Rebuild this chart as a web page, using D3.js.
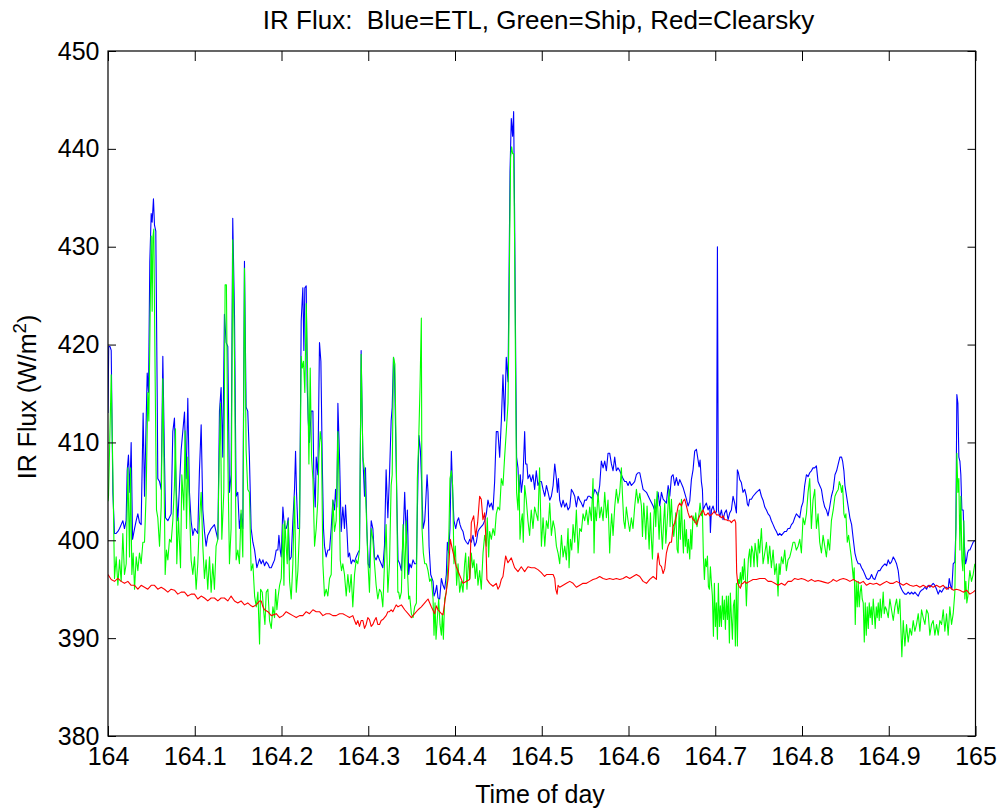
<!DOCTYPE html>
<html>
<head>
<meta charset="utf-8">
<script src="https://cdn.jsdelivr.net/npm/d3@7"></script>
<style>
  html, body { margin: 0; padding: 0; background: #fff; }
  svg { display: block; }
  text { font-family: "Liberation Sans", Arial, Helvetica, sans-serif; fill: #000; }
</style>
</head>
<body>
<svg id="chart" width="1002" height="808"></svg>
<script>
// IR flux over day 164: ETL radiometer, ship radiometer and clear-sky model, [day, W/m^2]
const etl = [[164.0000,413.0],[164.0008,419.8],[164.0023,419.8],[164.0037,419.4],[164.0056,404.9],[164.0075,400.7],[164.0094,400.7],[164.0114,400.9],[164.0133,401.2],[164.0152,401.6],[164.0171,402.0],[164.0190,401.2],[164.0209,402.0],[164.0221,407.1],[164.0236,408.7],[164.0252,404.9],[164.0267,410.0],[164.0283,400.1],[164.0306,401.2],[164.0325,402.0],[164.0344,402.7],[164.0363,401.8],[164.0382,401.6],[164.0405,413.0],[164.0421,404.5],[164.0452,417.1],[164.0467,415.1],[164.0482,428.5],[164.0498,433.4],[164.0509,432.5],[164.0524,434.9],[164.0536,432.2],[164.0551,431.6],[164.0567,415.0],[164.0574,406.3],[164.0594,406.0],[164.0613,405.2],[164.0632,418.8],[164.0651,408.5],[164.0663,402.3],[164.0690,402.0],[164.0728,402.7],[164.0747,411.1],[164.0766,412.5],[164.0786,405.2],[164.0805,402.0],[164.0843,409.2],[164.0882,413.1],[164.0901,406.3],[164.0920,414.5],[164.0939,404.9],[164.0958,402.0],[164.0978,400.5],[164.0997,401.2],[164.1035,400.7],[164.1054,407.1],[164.1074,411.8],[164.1093,403.1],[164.1112,400.9],[164.1131,399.4],[164.1150,400.5],[164.1189,401.2],[164.1227,401.6],[164.1266,400.1],[164.1285,413.2],[164.1304,415.6],[164.1323,408.5],[164.1342,423.1],[164.1362,420.2],[164.1381,419.8],[164.1400,404.9],[164.1419,406.7],[164.1438,432.9],[164.1458,423.1],[164.1477,404.5],[164.1496,404.9],[164.1515,401.2],[164.1534,402.7],[164.1554,401.2],[164.1573,428.5],[164.1592,413.6],[164.1611,413.2],[164.1630,408.5],[164.1650,401.2],[164.1670,399.8],[164.1690,399.0],[164.1716,397.2],[164.1747,398.1],[164.1766,397.6],[164.1786,398.0],[164.1805,397.4],[164.1824,397.8],[164.1843,397.6],[164.1862,397.2],[164.1882,397.2],[164.1901,397.6],[164.1920,398.0],[164.1939,399.0],[164.1958,399.0],[164.1970,400.5],[164.1985,399.0],[164.1997,398.3],[164.2016,403.4],[164.2028,402.0],[164.2039,401.2],[164.2054,401.2],[164.2066,401.6],[164.2077,402.3],[164.2093,398.0],[164.2112,398.3],[164.2131,402.0],[164.2150,405.2],[164.2162,409.1],[164.2173,404.9],[164.2189,401.2],[164.2208,401.2],[164.2227,422.4],[164.2246,425.8],[164.2258,419.4],[164.2269,425.8],[164.2285,426.0],[164.2296,415.8],[164.2308,412.2],[164.2323,410.0],[164.2342,413.2],[164.2362,413.2],[164.2373,406.3],[164.2389,403.4],[164.2400,408.5],[164.2419,406.7],[164.2438,420.2],[164.2454,418.3],[164.2469,408.5],[164.2484,401.2],[164.2496,399.4],[164.2515,398.3],[164.2534,399.0],[164.2554,399.0],[164.2573,401.2],[164.2592,404.1],[164.2611,403.1],[164.2623,405.2],[164.2638,403.4],[164.2650,414.0],[164.2669,408.5],[164.2688,400.9],[164.2707,403.4],[164.2726,401.2],[164.2738,403.6],[164.2753,401.2],[164.2769,398.3],[164.2784,398.7],[164.2803,397.6],[164.2822,398.0],[164.2842,397.8],[164.2861,398.3],[164.2880,398.7],[164.2899,399.0],[164.2918,419.4],[164.2938,408.5],[164.2957,404.5],[164.2968,407.4],[164.2984,401.2],[164.2999,397.6],[164.3014,397.2],[164.3034,402.0],[164.3053,401.2],[164.3072,398.3],[164.3091,398.0],[164.3110,398.5],[164.3130,398.0],[164.3149,397.6],[164.3168,397.2],[164.3187,399.4],[164.3206,407.2],[164.3226,402.3],[164.3245,406.7],[164.3264,412.2],[164.3276,413.6],[164.3291,418.7],[164.3302,417.6],[164.3324,406.7],[164.3343,398.0],[164.3363,397.6],[164.3382,396.9],[164.3401,400.1],[164.3420,404.9],[164.3439,400.1],[164.3451,403.1],[164.3466,396.5],[164.3478,397.6],[164.3497,397.2],[164.3516,398.0],[164.3535,397.6],[164.3555,397.6],[164.3574,406.7],[164.3585,410.7],[164.3601,409.2],[164.3612,406.7],[164.3632,401.2],[164.3651,402.0],[164.3662,403.8],[164.3678,406.7],[164.3689,404.9],[164.3701,399.4],[164.3720,396.5],[164.3735,396.1],[164.3747,395.8],[164.3758,394.3],[164.3774,394.7],[164.3789,395.4],[164.3804,394.1],[164.3823,394.0],[164.3843,396.1],[164.3862,395.4],[164.3881,395.0],[164.3900,396.5],[164.3912,399.8],[164.3927,398.7],[164.3942,401.2],[164.3958,409.1],[164.3973,404.9],[164.3988,402.0],[164.4008,401.2],[164.4027,402.0],[164.4042,402.3],[164.4058,401.6],[164.4073,401.2],[164.4092,400.9],[164.4111,400.1],[164.4131,399.8],[164.4150,399.6],[164.4169,400.1],[164.4188,399.8],[164.4207,400.5],[164.4227,399.4],[164.4246,399.8],[164.4265,400.9],[164.4284,401.2],[164.4303,401.4],[164.4323,401.6],[164.4342,402.0],[164.4361,402.7],[164.4380,404.1],[164.4399,403.4],[164.4419,403.8],[164.4438,403.1],[164.4457,406.0],[164.4476,411.1],[164.4495,411.1],[164.4515,408.5],[164.4534,412.2],[164.4553,416.9],[164.4572,412.2],[164.4591,418.7],[164.4611,416.2],[164.4622,426.0],[164.4634,437.6],[164.4649,443.1],[164.4664,441.3],[164.4676,443.8],[164.4687,433.3],[164.4699,419.4],[164.4710,408.5],[164.4726,407.4],[164.4737,404.9],[164.4753,406.7],[164.4764,404.9],[164.4783,406.3],[164.4803,411.1],[164.4814,407.8],[164.4829,407.8],[164.4841,406.3],[164.4860,406.7],[164.4879,406.0],[164.4899,406.7],[164.4918,405.2],[164.4937,407.1],[164.4956,405.6],[164.4975,406.0],[164.4996,406.0],[164.5015,405.2],[164.5035,404.5],[164.5054,405.6],[164.5073,404.9],[164.5092,404.1],[164.5111,404.5],[164.5131,405.6],[164.5150,407.8],[164.5169,406.3],[164.5180,404.9],[164.5192,406.3],[164.5207,404.1],[164.5227,403.4],[164.5246,404.1],[164.5265,403.4],[164.5284,403.8],[164.5303,403.1],[164.5323,403.4],[164.5342,405.2],[164.5361,404.9],[164.5380,404.5],[164.5399,403.4],[164.5419,404.5],[164.5438,404.1],[164.5457,403.8],[164.5476,403.4],[164.5495,404.1],[164.5515,404.1],[164.5534,404.5],[164.5553,404.5],[164.5572,404.3],[164.5591,404.5],[164.5611,405.2],[164.5630,404.9],[164.5649,404.5],[164.5668,405.6],[164.5687,408.1],[164.5707,407.4],[164.5726,408.1],[164.5745,407.1],[164.5764,408.9],[164.5783,408.9],[164.5803,407.8],[164.5822,407.1],[164.5841,408.5],[164.5860,407.1],[164.5879,407.4],[164.5899,407.1],[164.5918,406.7],[164.5937,406.3],[164.5956,406.0],[164.5975,406.0],[164.5995,405.6],[164.6014,406.0],[164.6033,405.6],[164.6052,405.8],[164.6071,406.0],[164.6091,406.7],[164.6110,406.9],[164.6130,406.9],[164.6168,405.2],[164.6207,404.9],[164.6245,404.2],[164.6284,403.5],[164.6303,403.0],[164.6322,403.8],[164.6341,404.9],[164.6360,403.5],[164.6380,404.9],[164.6399,404.2],[164.6437,403.8],[164.6457,405.6],[164.6476,404.5],[164.6495,406.5],[164.6514,406.7],[164.6533,405.6],[164.6552,406.4],[164.6572,405.6],[164.6591,406.2],[164.6629,405.4],[164.6668,404.2],[164.6687,403.5],[164.6706,404.0],[164.6725,406.2],[164.6744,407.2],[164.6763,409.1],[164.6783,409.3],[164.6802,408.2],[164.6814,407.5],[164.6825,408.2],[164.6840,406.0],[164.6852,405.2],[164.6860,403.1],[164.6879,403.5],[164.6898,403.8],[164.6917,403.1],[164.6937,403.5],[164.6944,400.8],[164.6956,403.1],[164.6975,403.5],[164.6994,402.8],[164.7014,402.9],[164.7025,430.0],[164.7036,403.1],[164.7052,402.4],[164.7071,403.1],[164.7090,402.1],[164.7109,402.8],[164.7128,403.1],[164.7148,402.1],[164.7167,402.8],[164.7186,403.1],[164.7205,404.5],[164.7224,403.8],[164.7244,402.8],[164.7255,407.2],[164.7267,406.9],[164.7282,406.2],[164.7301,405.9],[164.7320,404.9],[164.7340,405.2],[164.7359,404.5],[164.7370,403.7],[164.7382,403.5],[164.7397,404.2],[164.7417,404.2],[164.7436,404.5],[164.7474,404.9],[164.7512,405.2],[164.7532,404.5],[164.7551,404.1],[164.7571,403.4],[164.7590,403.1],[164.7609,402.7],[164.7628,402.5],[164.7647,402.0],[164.7667,401.6],[164.7686,401.2],[164.7705,400.9],[164.7724,400.5],[164.7743,400.7],[164.7763,400.5],[164.7782,400.7],[164.7801,400.9],[164.7820,400.9],[164.7839,401.2],[164.7859,401.2],[164.7878,401.6],[164.7897,401.8],[164.7916,402.3],[164.7935,402.7],[164.7955,402.5],[164.7974,402.3],[164.7993,403.4],[164.8012,403.9],[164.8031,405.6],[164.8051,406.7],[164.8070,406.5],[164.8089,406.9],[164.8108,407.1],[164.8127,407.4],[164.8147,407.4],[164.8166,407.6],[164.8185,406.0],[164.8204,405.6],[164.8224,405.2],[164.8243,404.1],[164.8262,403.4],[164.8281,403.1],[164.8300,402.5],[164.8319,403.4],[164.8339,404.5],[164.8360,405.2],[164.8380,406.7],[164.8399,407.1],[164.8418,407.8],[164.8437,408.5],[164.8456,408.5],[164.8468,408.1],[164.8483,407.1],[164.8495,405.6],[164.8514,404.5],[164.8533,403.4],[164.8552,402.3],[164.8572,401.6],[164.8591,400.1],[164.8610,398.7],[164.8629,398.0],[164.8648,397.6],[164.8668,397.6],[164.8687,397.2],[164.8706,396.9],[164.8725,396.5],[164.8744,396.1],[164.8764,396.0],[164.8783,396.1],[164.8802,396.5],[164.8821,396.1],[164.8840,396.0],[164.8860,396.5],[164.8879,396.9],[164.8898,396.9],[164.8917,397.2],[164.8936,397.4],[164.8956,397.6],[164.8975,397.4],[164.8994,398.0],[164.9013,397.6],[164.9032,397.8],[164.9052,398.3],[164.9071,398.0],[164.9090,397.6],[164.9109,396.9],[164.9128,395.4],[164.9148,395.0],[164.9167,394.7],[164.9186,394.5],[164.9205,394.5],[164.9224,394.7],[164.9244,394.5],[164.9263,394.7],[164.9282,394.5],[164.9301,394.7],[164.9320,394.5],[164.9340,394.3],[164.9359,394.7],[164.9378,394.9],[164.9397,395.0],[164.9417,395.2],[164.9436,395.0],[164.9455,395.4],[164.9474,395.2],[164.9493,395.4],[164.9512,395.6],[164.9532,395.4],[164.9551,395.0],[164.9570,394.5],[164.9589,394.9],[164.9609,394.7],[164.9628,395.0],[164.9647,395.2],[164.9666,395.2],[164.9685,395.0],[164.9697,396.1],[164.9712,395.4],[164.9727,395.0],[164.9743,397.6],[164.9762,397.8],[164.9774,401.2],[164.9785,414.9],[164.9797,414.0],[164.9808,408.5],[164.9820,408.1],[164.9831,406.7],[164.9843,403.1],[164.9858,403.1],[164.9870,399.8],[164.9885,397.6],[164.9897,398.0],[164.9908,398.7],[164.9920,399.0],[164.9935,399.0],[164.9954,399.4],[164.9973,399.8],[164.9992,400.0]];

const ship = [[164.0000,404.0],[164.0006,404.5],[164.0037,416.9],[164.0056,407.0],[164.0075,396.1],[164.0094,398.3],[164.0114,395.4],[164.0133,398.0],[164.0152,395.8],[164.0171,400.7],[164.0190,396.5],[164.0210,397.6],[164.0229,407.4],[164.0248,398.3],[164.0260,407.4],[164.0275,396.5],[164.0290,398.7],[164.0306,395.0],[164.0325,398.3],[164.0344,396.9],[164.0363,398.7],[164.0382,397.6],[164.0402,399.8],[164.0421,399.8],[164.0440,404.9],[164.0459,415.1],[164.0471,412.2],[164.0486,423.1],[164.0498,431.1],[164.0509,423.4],[164.0517,430.9],[164.0528,431.8],[164.0544,416.2],[164.0559,403.1],[164.0574,402.3],[164.0594,399.4],[164.0613,403.4],[164.0632,416.5],[164.0644,408.5],[164.0659,396.5],[164.0674,399.0],[164.0690,398.0],[164.0709,400.1],[164.0728,399.8],[164.0747,402.0],[164.0766,405.6],[164.0778,411.4],[164.0793,397.6],[164.0812,402.3],[164.0836,397.2],[164.0851,406.7],[164.0874,403.1],[164.0889,411.2],[164.0905,401.2],[164.0920,408.5],[164.0939,403.4],[164.0958,398.0],[164.0978,396.5],[164.0997,398.3],[164.1016,395.0],[164.1035,397.6],[164.1054,402.0],[164.1074,404.9],[164.1093,399.4],[164.1112,396.1],[164.1131,398.0],[164.1150,395.0],[164.1170,398.3],[164.1189,394.7],[164.1208,397.6],[164.1227,395.0],[164.1246,399.4],[164.1266,400.1],[164.1281,407.8],[164.1296,414.0],[164.1312,400.1],[164.1335,404.9],[164.1350,426.1],[164.1365,426.1],[164.1381,408.5],[164.1400,397.6],[164.1419,401.2],[164.1438,430.7],[164.1458,418.7],[164.1477,398.0],[164.1496,399.0],[164.1515,397.6],[164.1534,403.1],[164.1554,398.3],[164.1573,427.8],[164.1592,409.2],[164.1611,405.2],[164.1630,404.9],[164.1650,396.9],[164.1670,397.6],[164.1690,394.3],[164.1709,393.2],[164.1728,394.7],[164.1747,389.4],[164.1759,395.0],[164.1778,394.7],[164.1793,392.9],[164.1809,391.4],[164.1824,394.7],[164.1843,395.0],[164.1862,391.8],[164.1882,391.0],[164.1901,393.2],[164.1920,392.1],[164.1932,395.0],[164.1947,392.9],[164.1962,394.3],[164.1978,395.4],[164.1997,396.1],[164.2016,401.6],[164.2028,395.4],[164.2039,402.0],[164.2054,399.4],[164.2066,397.6],[164.2077,402.0],[164.2093,395.8],[164.2112,394.0],[164.2131,397.6],[164.2150,404.5],[164.2170,394.7],[164.2189,396.9],[164.2208,401.2],[164.2227,418.8],[164.2239,417.6],[164.2254,418.3],[164.2269,415.1],[164.2285,424.2],[164.2300,417.6],[164.2316,407.8],[164.2331,417.6],[164.2346,408.5],[164.2362,406.3],[164.2381,399.4],[164.2400,401.2],[164.2419,404.1],[164.2431,408.5],[164.2446,411.1],[164.2461,410.0],[164.2477,397.6],[164.2496,394.3],[164.2515,395.0],[164.2534,394.3],[164.2554,396.1],[164.2573,396.5],[164.2592,404.1],[164.2611,400.9],[164.2630,402.0],[164.2650,411.1],[164.2661,406.7],[164.2677,398.0],[164.2692,396.9],[164.2707,397.6],[164.2726,396.5],[164.2746,394.3],[164.2765,396.5],[164.2784,394.7],[164.2803,396.5],[164.2822,393.2],[164.2842,396.5],[164.2861,398.0],[164.2880,397.6],[164.2899,399.0],[164.2918,419.0],[164.2938,408.5],[164.2957,407.1],[164.2976,403.1],[164.2995,398.0],[164.3014,394.7],[164.3034,401.2],[164.3053,400.1],[164.3072,397.6],[164.3091,395.4],[164.3110,394.0],[164.3130,395.0],[164.3149,394.7],[164.3168,393.2],[164.3187,397.6],[164.3206,401.6],[164.3226,394.7],[164.3245,397.6],[164.3264,405.6],[164.3276,406.7],[164.3291,418.7],[164.3307,418.0],[164.3322,409.2],[164.3341,394.7],[164.3351,394.7],[164.3363,394.0],[164.3382,394.7],[164.3401,401.6],[164.3420,396.1],[164.3439,402.0],[164.3451,397.2],[164.3466,394.0],[164.3478,394.3],[164.3497,392.5],[164.3516,392.1],[164.3535,393.2],[164.3555,393.6],[164.3566,406.3],[164.3581,410.0],[164.3597,415.8],[164.3612,422.7],[164.3620,401.2],[164.3635,398.7],[164.3651,397.6],[164.3670,397.6],[164.3689,396.9],[164.3708,395.8],[164.3727,396.1],[164.3747,394.0],[164.3758,390.3],[164.3770,393.6],[164.3781,389.9],[164.3797,392.1],[164.3812,394.0],[164.3827,391.4],[164.3843,390.3],[164.3854,392.5],[164.3866,389.9],[164.3881,394.0],[164.3900,394.7],[164.3919,397.6],[164.3931,401.2],[164.3942,406.3],[164.3958,407.1],[164.3973,405.6],[164.3988,397.6],[164.4004,399.4],[164.4019,395.4],[164.4035,397.6],[164.4054,394.7],[164.4073,395.8],[164.4092,394.7],[164.4111,397.6],[164.4123,398.7],[164.4138,395.0],[164.4157,398.3],[164.4173,396.1],[164.4188,398.7],[164.4204,397.2],[164.4219,398.0],[164.4234,396.1],[164.4250,397.6],[164.4265,395.4],[164.4284,396.9],[164.4303,395.0],[164.4323,398.7],[164.4342,400.5],[164.4361,399.4],[164.4372,402.3],[164.4388,398.3],[164.4399,400.9],[164.4419,400.1],[164.4438,401.2],[164.4457,400.5],[164.4476,402.7],[164.4495,403.4],[164.4515,403.1],[164.4534,406.3],[164.4553,405.6],[164.4572,408.5],[164.4591,411.1],[164.4611,414.0],[164.4618,418.7],[164.4630,430.4],[164.4641,439.1],[164.4653,440.2],[164.4664,439.5],[164.4676,439.5],[164.4687,430.4],[164.4699,415.8],[164.4710,404.9],[164.4726,403.1],[164.4737,406.7],[164.4749,400.1],[164.4764,402.0],[164.4776,402.7],[164.4787,399.8],[164.4803,405.6],[164.4822,404.1],[164.4841,402.0],[164.4860,400.5],[164.4879,403.1],[164.4899,401.2],[164.4918,403.4],[164.4937,402.7],[164.4956,402.0],[164.4975,407.4],[164.4996,399.4],[164.5015,402.3],[164.5035,399.4],[164.5054,402.0],[164.5073,401.2],[164.5092,403.8],[164.5111,400.5],[164.5131,402.0],[164.5150,401.2],[164.5169,399.4],[164.5188,398.7],[164.5207,397.6],[164.5227,400.5],[164.5246,398.3],[164.5265,399.4],[164.5284,398.0],[164.5303,401.2],[164.5315,397.2],[164.5330,400.1],[164.5346,399.0],[164.5361,401.6],[164.5380,399.8],[164.5399,403.1],[164.5419,398.7],[164.5438,401.2],[164.5457,400.9],[164.5476,402.7],[164.5495,402.0],[164.5515,403.1],[164.5534,401.6],[164.5553,403.4],[164.5572,402.0],[164.5591,406.3],[164.5603,398.7],[164.5614,403.4],[164.5630,402.0],[164.5649,404.9],[164.5668,402.3],[164.5687,403.4],[164.5707,402.0],[164.5726,404.9],[164.5745,402.3],[164.5764,404.1],[164.5783,398.7],[164.5795,401.2],[164.5806,402.7],[164.5822,400.5],[164.5841,403.4],[164.5860,405.2],[164.5879,403.8],[164.5899,404.9],[164.5918,407.4],[164.5929,404.9],[164.5945,402.0],[164.5960,401.2],[164.5975,403.4],[164.5995,402.0],[164.6014,400.9],[164.6033,402.3],[164.6052,401.2],[164.6071,403.4],[164.6091,405.2],[164.6110,403.8],[164.6130,404.8],[164.6149,403.5],[164.6161,400.4],[164.6176,403.8],[164.6188,402.1],[164.6199,400.1],[164.6214,403.5],[164.6226,401.4],[164.6238,399.1],[164.6253,402.8],[164.6264,400.1],[164.6276,398.1],[164.6291,402.1],[164.6303,404.2],[164.6314,401.4],[164.6330,405.0],[164.6341,402.5],[164.6353,400.1],[164.6368,403.5],[164.6380,400.8],[164.6391,399.1],[164.6406,402.1],[164.6418,403.8],[164.6430,399.7],[164.6445,401.8],[164.6456,403.5],[164.6468,405.2],[164.6479,401.4],[164.6495,404.2],[164.6506,401.8],[164.6522,400.4],[164.6533,401.4],[164.6545,402.8],[164.6560,399.1],[164.6572,398.7],[164.6583,403.1],[164.6598,400.1],[164.6610,404.2],[164.6622,400.8],[164.6633,398.7],[164.6645,402.1],[164.6656,399.4],[164.6668,401.1],[164.6679,398.7],[164.6691,400.1],[164.6706,398.1],[164.6718,401.1],[164.6729,399.1],[164.6744,402.5],[164.6764,401.8],[164.6775,402.8],[164.6790,401.4],[164.6802,402.1],[164.6814,402.8],[164.6825,403.8],[164.6840,402.5],[164.6852,403.1],[164.6863,398.4],[164.6875,396.0],[164.6886,398.1],[164.6898,397.3],[164.6910,398.4],[164.6921,395.3],[164.6933,395.0],[164.6944,397.3],[164.6956,395.6],[164.6967,394.3],[164.6979,390.2],[164.6990,395.6],[164.7002,391.2],[164.7013,393.6],[164.7025,389.9],[164.7036,395.6],[164.7048,391.2],[164.7059,393.3],[164.7071,391.2],[164.7082,394.3],[164.7094,391.9],[164.7105,393.9],[164.7117,390.9],[164.7128,394.3],[164.7140,391.9],[164.7151,394.3],[164.7163,389.5],[164.7174,394.6],[164.7186,392.2],[164.7198,389.9],[164.7209,393.3],[164.7221,393.9],[164.7232,389.2],[164.7244,395.6],[164.7255,389.2],[164.7267,396.0],[164.7278,395.6],[164.7290,396.7],[164.7301,395.3],[164.7313,397.3],[164.7324,396.0],[164.7336,398.1],[164.7347,396.3],[164.7359,393.3],[164.7370,396.0],[164.7382,398.1],[164.7397,399.1],[164.7409,397.3],[164.7420,399.4],[164.7436,398.7],[164.7447,397.3],[164.7459,399.7],[164.7474,398.7],[164.7486,397.3],[164.7497,400.1],[164.7512,398.7],[164.7532,401.2],[164.7551,397.6],[164.7571,398.7],[164.7590,399.8],[164.7609,397.6],[164.7628,399.4],[164.7647,397.2],[164.7667,399.0],[164.7686,396.5],[164.7705,397.6],[164.7724,394.3],[164.7736,397.6],[164.7747,396.5],[164.7763,398.3],[164.7782,397.6],[164.7801,399.0],[164.7820,396.9],[164.7839,398.0],[164.7859,398.3],[164.7878,399.0],[164.7897,399.8],[164.7916,399.8],[164.7935,399.0],[164.7955,399.4],[164.7974,400.1],[164.7993,398.7],[164.8012,402.3],[164.8031,401.6],[164.8051,402.7],[164.8070,404.9],[164.8089,406.3],[164.8108,401.2],[164.8127,404.1],[164.8147,405.2],[164.8166,401.2],[164.8185,402.7],[164.8204,399.8],[164.8224,398.7],[164.8243,400.5],[164.8262,399.4],[164.8281,398.3],[164.8300,400.1],[164.8319,399.0],[164.8339,402.0],[164.8360,403.1],[164.8380,404.5],[164.8399,404.9],[164.8418,405.2],[164.8430,406.0],[164.8445,405.6],[164.8456,404.9],[164.8468,405.6],[164.8483,402.7],[164.8495,402.3],[164.8506,402.7],[164.8522,399.8],[164.8537,400.5],[164.8552,399.4],[164.8572,398.0],[164.8591,396.1],[164.8602,397.2],[164.8614,391.4],[164.8625,395.8],[164.8637,393.2],[164.8648,395.8],[164.8660,393.2],[164.8671,394.7],[164.8683,395.4],[164.8694,394.0],[164.8706,393.6],[164.8718,389.6],[164.8729,393.6],[164.8741,390.3],[164.8752,393.2],[164.8764,391.0],[164.8775,393.6],[164.8787,392.1],[164.8798,393.2],[164.8810,391.4],[164.8821,394.0],[164.8833,392.5],[164.8844,391.0],[164.8856,393.2],[164.8867,392.1],[164.8879,393.6],[164.8890,391.8],[164.8902,394.0],[164.8913,392.1],[164.8925,393.2],[164.8936,394.7],[164.8948,392.5],[164.8960,393.2],[164.8975,392.9],[164.8994,392.1],[164.9013,394.0],[164.9032,392.9],[164.9052,391.8],[164.9071,393.2],[164.9090,394.0],[164.9109,392.5],[164.9128,394.0],[164.9140,391.0],[164.9151,388.1],[164.9167,391.8],[164.9186,389.2],[164.9205,391.4],[164.9224,389.6],[164.9244,391.0],[164.9263,390.3],[164.9282,391.8],[164.9301,390.7],[164.9320,391.4],[164.9340,392.5],[164.9359,390.7],[164.9378,392.9],[164.9397,392.1],[164.9417,391.4],[164.9436,392.9],[164.9455,392.5],[164.9474,390.3],[164.9493,391.4],[164.9512,391.8],[164.9532,390.3],[164.9551,391.4],[164.9570,390.3],[164.9589,391.8],[164.9609,391.4],[164.9628,392.9],[164.9647,390.7],[164.9666,392.5],[164.9685,390.3],[164.9704,393.2],[164.9724,391.4],[164.9743,392.5],[164.9762,394.7],[164.9774,401.2],[164.9785,408.9],[164.9797,404.9],[164.9808,406.3],[164.9820,399.0],[164.9831,404.5],[164.9843,398.0],[164.9854,396.9],[164.9866,402.0],[164.9877,394.0],[164.9889,395.8],[164.9900,393.6],[164.9912,394.3],[164.9923,395.8],[164.9935,396.9],[164.9954,395.8],[164.9973,396.5],[164.9992,397.6]];

const clearsky = [[164.0000,396.5],[164.0037,396.0],[164.0075,395.8],[164.0114,396.1],[164.0152,395.8],[164.0190,395.6],[164.0229,395.8],[164.0267,395.4],[164.0306,395.4],[164.0344,395.0],[164.0382,395.4],[164.0421,395.2],[164.0459,395.0],[164.0498,395.4],[164.0536,395.4],[164.0574,395.0],[164.0613,395.2],[164.0651,395.0],[164.0690,394.7],[164.0728,395.0],[164.0766,394.9],[164.0805,394.5],[164.0843,394.7],[164.0882,394.7],[164.0920,394.3],[164.0958,394.5],[164.0997,394.5],[164.1035,394.0],[164.1074,394.3],[164.1112,394.1],[164.1150,393.8],[164.1189,394.1],[164.1227,394.1],[164.1266,393.8],[164.1304,394.1],[164.1342,394.1],[164.1381,393.8],[164.1419,394.3],[164.1458,393.8],[164.1496,393.6],[164.1534,393.8],[164.1573,393.4],[164.1611,393.6],[164.1650,393.3],[164.1670,393.2],[164.1709,393.4],[164.1747,393.8],[164.1766,393.8],[164.1786,393.2],[164.1805,392.9],[164.1843,392.7],[164.1882,392.3],[164.1939,392.5],[164.1978,392.1],[164.2016,392.3],[164.2054,392.7],[164.2093,392.5],[164.2131,392.3],[164.2170,392.1],[164.2208,392.3],[164.2246,392.3],[164.2285,392.7],[164.2323,392.5],[164.2362,392.9],[164.2400,392.7],[164.2438,392.7],[164.2477,392.3],[164.2515,392.5],[164.2554,392.5],[164.2592,392.3],[164.2630,392.3],[164.2669,392.5],[164.2707,392.5],[164.2746,392.3],[164.2784,392.1],[164.2822,392.3],[164.2842,391.8],[164.2861,391.4],[164.2880,391.8],[164.2899,391.2],[164.2918,391.8],[164.2938,391.8],[164.2957,391.0],[164.2976,391.4],[164.2995,392.1],[164.3014,391.9],[164.3034,391.2],[164.3053,391.4],[164.3072,391.8],[164.3091,392.1],[164.3110,391.4],[164.3130,391.4],[164.3149,391.8],[164.3168,391.9],[164.3187,392.1],[164.3206,392.3],[164.3226,392.7],[164.3245,392.7],[164.3264,392.9],[164.3283,392.7],[164.3322,393.4],[164.3343,393.2],[164.3382,393.4],[164.3420,392.9],[164.3459,392.5],[164.3497,392.1],[164.3535,392.5],[164.3574,392.9],[164.3612,393.2],[164.3651,393.6],[164.3689,394.0],[164.3727,393.2],[164.3766,392.5],[164.3785,393.3],[164.3804,392.9],[164.3843,392.5],[164.3862,392.4],[164.3892,394.3],[164.3919,396.0],[164.3946,400.1],[164.3969,399.1],[164.4015,397.3],[164.4092,395.6],[164.4169,396.0],[164.4188,401.8],[164.4215,402.5],[164.4238,400.4],[164.4261,401.8],[164.4284,404.5],[164.4303,404.2],[164.4322,402.1],[164.4342,402.8],[164.4353,400.8],[164.4368,396.0],[164.4399,395.6],[164.4438,395.3],[164.4476,395.6],[164.4495,395.0],[164.4514,395.3],[164.4534,396.0],[164.4553,396.3],[164.4584,398.4],[164.4610,397.7],[164.4649,398.2],[164.4687,397.2],[164.4726,396.8],[164.4764,397.3],[164.4803,396.8],[164.4841,397.3],[164.4879,397.2],[164.4918,397.2],[164.4956,397.0],[164.4995,396.7],[164.5033,396.3],[164.5054,396.5],[164.5131,396.5],[164.5150,396.1],[164.5161,395.0],[164.5177,394.5],[164.5188,395.4],[164.5207,395.2],[164.5246,395.4],[164.5284,395.6],[164.5323,395.8],[164.5361,395.6],[164.5399,395.2],[164.5438,395.4],[164.5476,395.6],[164.5515,395.6],[164.5553,395.8],[164.5591,396.0],[164.5630,396.1],[164.5668,396.3],[164.5707,396.1],[164.5745,396.0],[164.5783,396.1],[164.5822,396.0],[164.5860,396.1],[164.5899,396.0],[164.5937,396.1],[164.5975,396.3],[164.6014,396.1],[164.6052,396.3],[164.6091,396.5],[164.6130,396.3],[164.6168,395.8],[164.6207,395.6],[164.6245,396.0],[164.6284,396.3],[164.6322,396.0],[164.6330,397.8],[164.6341,398.7],[164.6360,397.5],[164.6380,397.3],[164.6399,396.6],[164.6418,397.1],[164.6437,398.7],[164.6456,399.4],[164.6476,399.8],[164.6495,399.8],[164.6514,401.4],[164.6533,401.8],[164.6552,402.5],[164.6572,403.5],[164.6591,403.8],[164.6610,403.5],[164.6629,404.0],[164.6648,404.2],[164.6668,403.5],[164.6687,402.8],[164.6706,402.3],[164.6725,402.5],[164.6744,402.1],[164.6764,402.0],[164.6783,401.6],[164.6802,402.1],[164.6821,402.5],[164.6840,402.8],[164.6860,403.1],[164.6879,402.6],[164.6898,402.6],[164.6917,402.8],[164.6936,402.5],[164.6956,402.6],[164.6975,402.8],[164.6994,403.0],[164.7013,402.6],[164.7032,402.6],[164.7052,402.5],[164.7071,402.3],[164.7090,402.5],[164.7109,402.1],[164.7128,402.1],[164.7148,402.0],[164.7167,402.0],[164.7186,401.8],[164.7205,402.0],[164.7224,402.1],[164.7236,401.8],[164.7247,396.7],[164.7259,395.6],[164.7274,395.3],[164.7290,395.1],[164.7301,395.5],[164.7320,395.6],[164.7340,395.8],[164.7359,395.6],[164.7397,395.8],[164.7436,396.0],[164.7474,396.0],[164.7512,396.1],[164.7571,396.1],[164.7609,395.8],[164.7647,395.8],[164.7686,395.6],[164.7724,395.4],[164.7763,395.6],[164.7801,395.4],[164.7839,395.8],[164.7878,395.8],[164.7916,396.1],[164.7955,396.0],[164.7993,396.1],[164.8031,396.0],[164.8070,395.8],[164.8108,396.0],[164.8147,395.8],[164.8185,395.9],[164.8224,395.8],[164.8262,395.7],[164.8300,395.6],[164.8339,395.8],[164.8360,396.0],[164.8399,395.8],[164.8437,396.0],[164.8476,396.1],[164.8514,396.0],[164.8552,395.8],[164.8591,396.0],[164.8629,395.8],[164.8668,395.6],[164.8706,395.8],[164.8744,395.4],[164.8783,395.6],[164.8821,395.5],[164.8860,395.6],[164.8898,395.4],[164.8936,395.6],[164.8975,395.8],[164.9013,395.6],[164.9052,395.6],[164.9090,395.8],[164.9128,395.6],[164.9167,395.4],[164.9205,395.6],[164.9244,395.4],[164.9282,395.3],[164.9320,395.4],[164.9359,395.2],[164.9397,395.4],[164.9436,395.2],[164.9474,395.4],[164.9512,395.2],[164.9551,395.4],[164.9589,395.2],[164.9628,395.4],[164.9666,395.0],[164.9704,395.2],[164.9743,394.9],[164.9781,395.0],[164.9820,394.9],[164.9858,394.7],[164.9897,394.9],[164.9935,394.5],[164.9973,394.7],[165.0000,394.9]];

const xTicks = [164, 164.1, 164.2, 164.3, 164.4, 164.5, 164.6, 164.7, 164.8, 164.9, 165];
const xTickLabels = ["164", "164.1", "164.2", "164.3", "164.4", "164.5", "164.6", "164.7", "164.8", "164.9", "165"];
const yTicks = [380, 390, 400, 410, 420, 430, 440, 450];
const yTickLabels = ["380", "390", "400", "410", "420", "430", "440", "450"];

const chartTitle = "IR Flux:  Blue=ETL, Green=Ship, Red=Clearsky";
const xTitle = "Time of day";

// plot frame
const W = 1002, H = 808;
const plotL = 108, plotR = 975.5, plotT = 51, plotB = 736;
const FONT = 25;

const svg = d3.select("#chart");
svg.append("rect").attr("width", W).attr("height", H).attr("fill", "#fff");

const x = d3.scaleLinear().domain([164, 165]).range([plotL, plotR]);
const y = d3.scaleLinear().domain([380, 450]).range([plotB, plotT]);

svg.append("defs").append("clipPath").attr("id", "plotclip")
  .append("rect").attr("x", plotL).attr("y", plotT)
  .attr("width", plotR - plotL).attr("height", plotB - plotT);

const line = d3.line().x(d => x(d[0])).y(d => y(d[1]));

const series = [
  { data: etl, color: "#0000ff" },
  { data: ship, color: "#00ff00" },
  { data: clearsky, color: "#ff0000" }
];

const lines = svg.append("g").attr("clip-path", "url(#plotclip)");
series.forEach(s => {
  lines.append("path")
    .datum(s.data)
    .attr("d", line)
    .attr("fill", "none")
    .attr("stroke", s.color)
    .attr("stroke-width", 1.1)
    .attr("stroke-linejoin", "round");
});

// axes with inward ticks on all four sides
function styleAxis(g) {
  g.select(".domain").remove();
  g.selectAll(".tick line").attr("stroke", "#000").attr("stroke-width", 1);
  g.selectAll(".tick text")
    .attr("fill", "#000")
    .style("font-family", '"Liberation Sans", Arial, sans-serif')
    .style("font-size", FONT + "px");
}

svg.append("g")
  .attr("transform", `translate(0,${plotB})`)
  .call(d3.axisBottom(x).tickValues(xTicks)
    .tickFormat((d, i) => xTickLabels[i])
    .tickSizeInner(-10).tickSizeOuter(0).tickPadding(11.5))
  .call(styleAxis);

svg.append("g")
  .attr("transform", `translate(0,${plotT})`)
  .call(d3.axisTop(x).tickValues(xTicks).tickFormat("")
    .tickSizeInner(-10).tickSizeOuter(0))
  .call(styleAxis);

svg.append("g")
  .attr("transform", `translate(${plotL},0)`)
  .call(d3.axisLeft(y).tickValues(yTicks)
    .tickFormat((d, i) => yTickLabels[i])
    .tickSizeInner(-8).tickSizeOuter(0).tickPadding(8.5))
  .call(styleAxis);

svg.append("g")
  .attr("transform", `translate(${plotR},0)`)
  .call(d3.axisRight(y).tickValues(yTicks).tickFormat("")
    .tickSizeInner(-8).tickSizeOuter(0))
  .call(styleAxis);

svg.append("rect")
  .attr("x", plotL).attr("y", plotT)
  .attr("width", plotR - plotL).attr("height", plotB - plotT)
  .attr("fill", "none").attr("stroke", "#000").attr("stroke-width", 1.2);

// titles
svg.append("text")
  .attr("x", 538.5).attr("y", 29)
  .attr("text-anchor", "middle")
  .style("font-size", "26px")
  .style("white-space", "pre")
  .attr("xml:space", "preserve")
  .text(chartTitle);

svg.append("text")
  .attr("x", 540).attr("y", 803)
  .attr("text-anchor", "middle")
  .style("font-size", FONT + "px")
  .text(xTitle);

const yl = svg.append("text")
  .attr("transform", "translate(36,397) rotate(-90)")
  .attr("text-anchor", "middle")
  .style("font-size", FONT + "px");
yl.append("tspan").text("IR Flux (W/m");
yl.append("tspan").attr("baseline-shift", "super").style("font-size", (FONT * 0.75) + "px").text("2");
yl.append("tspan").text(")");
</script>
</body>
</html>
